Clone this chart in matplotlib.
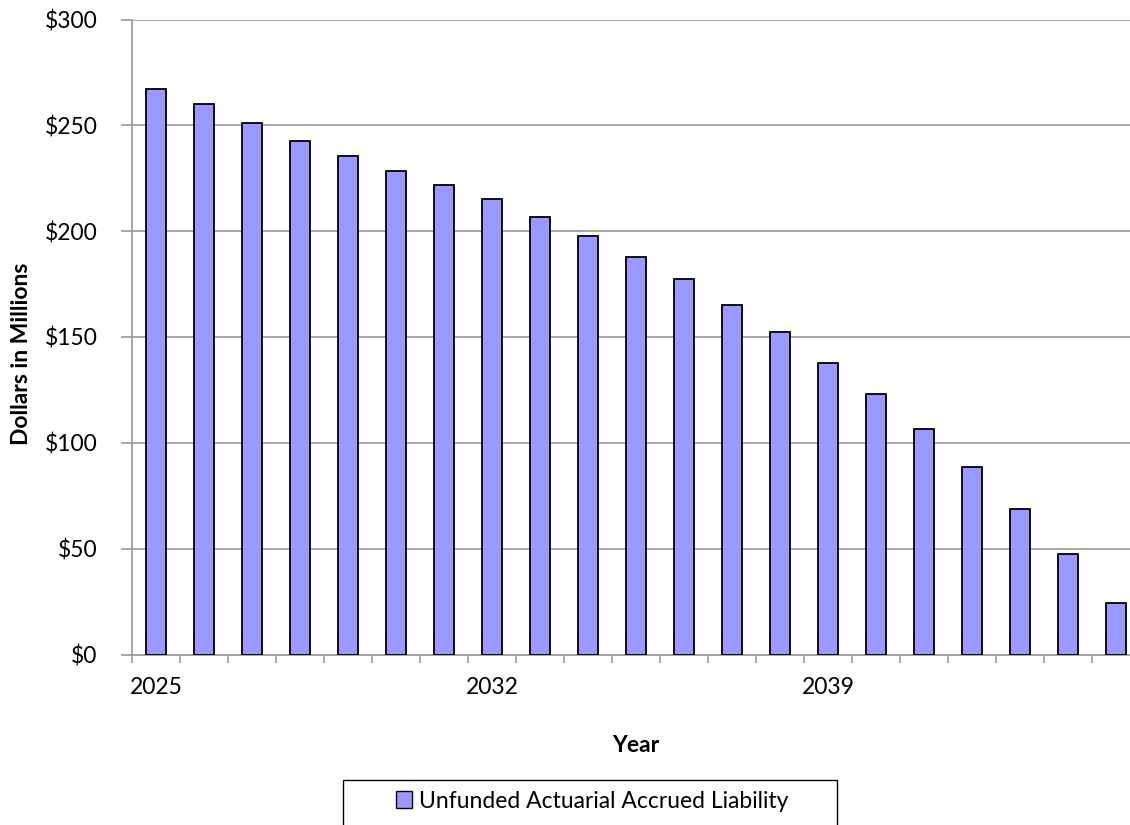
import matplotlib
matplotlib.use("Agg")
import matplotlib.pyplot as plt
from matplotlib.ticker import FixedLocator, FuncFormatter
from matplotlib.patches import Rectangle, Patch

years = list(range(2025, 2046))
liability = [267.1, 260.2, 251.3, 242.7, 235.4, 228.6, 221.8, 215.0, 206.8, 197.7,
             187.8, 177.3, 165.3, 152.3, 137.9, 122.9, 106.5, 88.5, 68.6, 47.5, 24.2]
labeled_years = [2025, 2032, 2039]
series_name = "Unfunded Actuarial Accrued Liability"

plt.rcParams['font.family'] = ['Lato', 'DejaVu Sans']

W, H = 1130, 825
fig = plt.figure(figsize=(W / 100, H / 100), dpi=100)
left, right = 132 / W, 1140 / W
bottom, top = 1 - 654.5 / H, 1 - 19.5 / H
ax = fig.add_axes([left, bottom, right - left, top - bottom])

x = list(range(len(years)))
bar_color = '#9999FF'
bars = ax.bar(x, liability, width=0.4, color=bar_color, edgecolor='black',
              linewidth=1.3, label=series_name, zorder=3)

ax.set_xlim(-0.5, len(years) - 0.5)
ax.set_ylim(0, 300)
ax.set_yticks(range(0, 301, 50))
ax.yaxis.set_major_formatter(FuncFormatter(lambda v, p: f"${int(v)}"))
ax.yaxis.grid(True, color='#A0A0A0', linewidth=1.3, zorder=0)
ax.set_axisbelow(True)

major_pos = [years.index(y) for y in labeled_years]
ax.xaxis.set_major_locator(FixedLocator(major_pos))
ax.set_xticklabels([str(y) for y in labeled_years])
ax.xaxis.set_minor_locator(FixedLocator([i - 0.5 for i in range(len(years) + 1)]))
ax.tick_params(axis='x', which='major', length=0, pad=16, labelsize=16.5)
ax.tick_params(axis='x', which='minor', length=6, width=1.3, color='#A0A0A0')
ax.tick_params(axis='y', which='major', length=8, width=1.3, color='#A0A0A0',
               labelsize=16.5, pad=17)

for s in ['top', 'right']:
    ax.spines[s].set_visible(False)
for s in ['left', 'bottom']:
    ax.spines[s].set_color('#A0A0A0')
    ax.spines[s].set_linewidth(1.3)

fig.text(636 / W, 1 - 745 / H, 'Year', fontsize=16.5, fontweight='bold',
         ha='center', va='center')
fig.text(22 / W, 1 - 354 / H, 'Dollars in Millions', rotation=90, fontsize=16.5,
         fontweight='bold', ha='center', va='center')

# legend box (clipped by the figure's bottom edge as in the reference)
box_top_px, box_left_px, box_right_px = 780, 343, 837
fig.patches.append(Rectangle((box_left_px / W, -10 / H),
                             (box_right_px - box_left_px) / W,
                             (H - box_top_px + 10) / H,
                             transform=fig.transFigure, facecolor='white',
                             edgecolor='black', linewidth=1.0))
leg = fig.legend(handles=[Patch(facecolor=bar_color, edgecolor='black', linewidth=1.0)],
                 labels=[series_name], loc='center',
                 bbox_to_anchor=(592 / W, 1 - 801 / H), fontsize=16.5,
                 frameon=False, handlelength=0.7, handleheight=0.7,
                 handletextpad=0.3, borderpad=0, borderaxespad=0)

fig.savefig('out.png', dpi=100)
